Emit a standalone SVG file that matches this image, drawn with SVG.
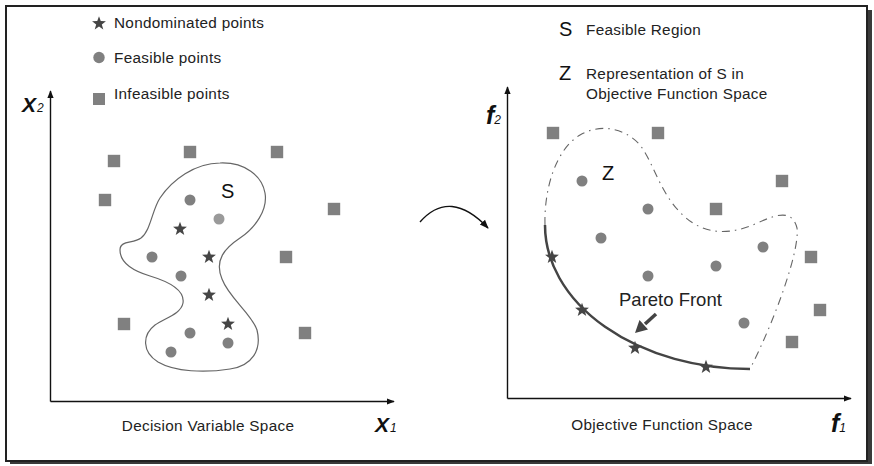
<svg xmlns="http://www.w3.org/2000/svg" width="874" height="466" viewBox="0 0 874 466">
<defs>
<style>
.t{font-family:"Liberation Sans",Arial,sans-serif;font-size:15.3px;letter-spacing:0.3px;fill:#222}
.big{font-family:"Liberation Sans",Arial,sans-serif;font-size:20px;fill:#111}
.ax{font-family:"Liberation Sans",Arial,sans-serif;font-style:italic;font-weight:bold;fill:#111}
.axis{stroke:#111;stroke-width:1.4;fill:none}
.sq{fill:#808080}
.ci{fill:#808080}
.st{fill:#454545}
</style>
<marker id="ah" viewBox="0 0 10 10" refX="9" refY="5" markerWidth="8" markerHeight="8" markerUnits="userSpaceOnUse" orient="auto">
<path d="M0,1 L10,5 L0,9 Z" fill="#111"/>
</marker>
<marker id="ah2" viewBox="0 0 10 10" refX="9" refY="5" markerWidth="9" markerHeight="9" markerUnits="userSpaceOnUse" orient="auto">
<path d="M0,1 L10,5 L0,9 Z" fill="#111"/>
</marker>
<polygon id="star" points="0,-7.3 1.75,-2.4 6.94,-2.26 2.83,0.92 4.29,5.91 0,3 -4.29,5.91 -2.83,0.92 -6.94,-2.26 -1.75,-2.4"/>
<rect id="sqr" x="-6.2" y="-6.2" width="12.4" height="12.4"/>
</defs>

<g id="frame">
<rect x="10" y="10" width="862" height="454" fill="#3a3a3a"/>
<rect x="6" y="6" width="861" height="455" fill="#fff" stroke="#222" stroke-width="2"/>
</g>

<g id="legend-left">
<use href="#star" x="99" y="23.5" class="st"/>
<text class="t" x="114" y="28">Nondominated points</text>
<circle cx="99" cy="57.5" r="5.7" class="ci"/>
<text class="t" x="114" y="63">Feasible points</text>
<rect x="93" y="93" width="12" height="12" class="sq"/>
<text class="t" x="114" y="99">Infeasible points</text>
</g>

<g id="legend-right">
<text class="big" x="559" y="36">S</text>
<text class="t" x="586" y="35">Feasible Region</text>
<text class="big" x="559" y="80">Z</text>
<text class="t" x="586" y="79">Representation of S in</text>
<text class="t" x="586" y="99">Objective Function Space</text>
</g>

<g id="decision-space">
<line class="axis" x1="50.5" y1="401.5" x2="50.5" y2="91" marker-end="url(#ah)"/>
<line class="axis" x1="50.5" y1="401.5" x2="394" y2="401.5" marker-end="url(#ah)"/>
<text class="ax" x="22" y="112" font-size="21">X<tspan font-size="12" font-weight="normal" dx="1">2</tspan></text>
<text class="ax" x="375" y="432" font-size="21">X<tspan font-size="12" font-weight="normal" dx="1">1</tspan></text>
<text class="t" x="208" y="431" text-anchor="middle">Decision Variable Space</text>
</g>

<g id="region-S">
<path d="M220,163 C245,162 262,176 265,193 C268,210 255,228 240,238 C225,248 214,260 222,279 C229,298 252,314 257,330 C262,350 252,366 230,369 C205,373 175,372 158,362 C142,352 142,335 155,325 C165,318 181,314 183,303 C185,290 170,282 150,276 C130,270 120,262 120,250 C120,240 133,244 141,238 C151,230 152,210 160,198 C172,180 195,163 220,163 Z" fill="none" stroke="#666" stroke-width="1.2"/>
<text class="big" x="221" y="198">S</text>
<circle cx="190" cy="200" r="5.5" class="ci"/>
<circle cx="219" cy="219" r="5.5" fill="#9a9a9a"/>
<circle cx="152" cy="257" r="5.5" class="ci"/>
<circle cx="181" cy="276" r="5.5" class="ci"/>
<circle cx="190" cy="333" r="5.5" class="ci"/>
<circle cx="228" cy="343" r="5.5" class="ci"/>
<circle cx="171" cy="352" r="5.5" class="ci"/>
<use href="#star" x="180" y="229" class="st"/>
<use href="#star" x="209" y="257" class="st"/>
<use href="#star" x="209" y="295" class="st"/>
<use href="#star" x="228" y="324" class="st"/>
</g>

<g id="infeasible-left" class="sq">
<use href="#sqr" x="114" y="161"/>
<use href="#sqr" x="190" y="152"/>
<use href="#sqr" x="277" y="152"/>
<use href="#sqr" x="105" y="200"/>
<use href="#sqr" x="334" y="209"/>
<use href="#sqr" x="286" y="257"/>
<use href="#sqr" x="124" y="324"/>
<use href="#sqr" x="305" y="333"/>
</g>

<g id="objective-space">
<line class="axis" x1="507.5" y1="398.5" x2="507.5" y2="87" marker-end="url(#ah)"/>
<line class="axis" x1="507.5" y1="398.5" x2="851" y2="398.5" marker-end="url(#ah)"/>
<text class="ax" x="486" y="124" font-size="25">f<tspan font-size="12" font-weight="normal" dx="0">2</tspan></text>
<text class="ax" x="831" y="432" font-size="25">f<tspan font-size="12" font-weight="normal" dx="0">1</tspan></text>
<text class="t" x="662" y="430" text-anchor="middle">Objective Function Space</text>
</g>

<g id="region-Z">
<path d="M545,225 C544,190 555,150 580,135 C600,123 625,128 640,145 C655,165 660,195 685,217 C705,235 730,235 755,224 C775,215 792,208 797,228 C800,250 775,320 750,369" fill="none" stroke="#666" stroke-width="1.1" stroke-dasharray="8,5,1.5,5"/>
<text class="big" x="602" y="180">Z</text>
<circle cx="582" cy="181" r="5.5" class="ci"/>
<circle cx="648" cy="209" r="5.5" class="ci"/>
<circle cx="601" cy="238" r="5.5" class="ci"/>
<circle cx="648" cy="276" r="5.5" class="ci"/>
<circle cx="716" cy="266" r="5.5" class="ci"/>
<circle cx="763" cy="247" r="5.5" class="ci"/>
<circle cx="744" cy="323" r="5.5" class="ci"/>
</g>

<g id="pareto-front">
<path d="M545,225 A205,144 0 0 0 750,369" fill="none" stroke="#444" stroke-width="2.5"/>
<use href="#star" x="552" y="257" class="st"/>
<use href="#star" x="582" y="310" class="st"/>
<use href="#star" x="635" y="348" class="st"/>
<use href="#star" x="706" y="367" class="st"/>
<text x="619" y="306" font-family="Liberation Sans,Arial,sans-serif" font-size="18.5" fill="#222">Pareto Front</text>
</g>

<g id="infeasible-right" class="sq">
<use href="#sqr" x="553" y="133"/>
<use href="#sqr" x="658" y="133"/>
<use href="#sqr" x="782" y="181"/>
<use href="#sqr" x="716" y="209"/>
<use href="#sqr" x="811" y="257"/>
<use href="#sqr" x="820" y="310"/>
<use href="#sqr" x="792" y="342"/>
</g>

<g id="connectors">
<path d="M420,222 Q450,188 488,228" fill="none" stroke="#111" stroke-width="1.4" marker-end="url(#ah2)"/>
<line x1="656" y1="314" x2="645" y2="324" stroke="#444" stroke-width="3.5"/>
<polygon points="635,333 648,329.5 639.5,320" fill="#444"/>
</g>
</svg>
